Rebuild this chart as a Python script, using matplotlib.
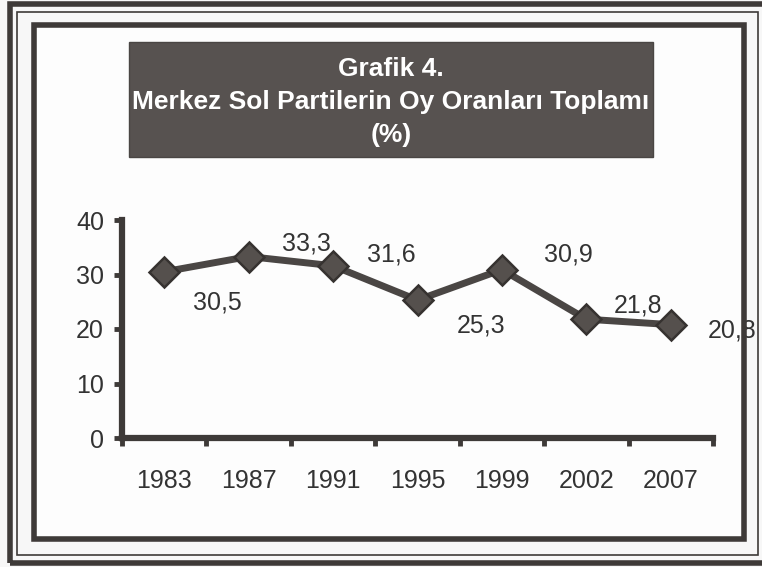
import matplotlib
matplotlib.use("Agg")
import matplotlib.pyplot as plt
from matplotlib.patches import Rectangle

years = ["1983", "1987", "1991", "1995", "1999", "2002", "2007"]
vote_share = [30.5, 33.3, 31.6, 25.3, 30.9, 21.8, 20.8]
value_labels = ["30,5", "33,3", "31,6", "25,3", "30,9", "21,8", "20,8"]
y_ticks = [0, 10, 20, 30, 40]
title_lines = ["Grafik 4.", "Merkez Sol Partilerin Oy Oranları Toplamı", "(%)"]

# label offsets from the markers, in pixels
label_offsets = [(53, -31), (58, 13), (58, 11), (64, -25), (66, 15), (52, 14), (61, -6)]

W, H = 762, 567
fig = plt.figure(figsize=(W / 100, H / 100), dpi=100, facecolor="#f7f7f7")

def box(x0, y0, x1, y1):
    # pixel box (top-left origin) -> figure fractions
    return x0 / W, 1 - y1 / H, (x1 - x0) / W, (y1 - y0) / H

dark = "#3e3a38"
text_col = "#333333"

# frames
for (x0, y0, x1, y1), lw in [((10, 4, 768, 563), 4.0),
                             ((17, 12, 758, 555), 1.2),
                             ((34, 25, 744, 539), 4.0)]:
    l, b, w, h = box(x0, y0, x1, y1)
    fig.add_artist(Rectangle((l, b), w, h, transform=fig.transFigure,
                             fill=False, edgecolor=dark, linewidth=lw))

# white inner panel
l, b, w, h = box(36, 27, 742, 537)
fig.add_artist(Rectangle((l, b), w, h, transform=fig.transFigure,
                         facecolor="#fdfdfd", edgecolor="none", zorder=-1))

# title box
l, b, w, h = box(129, 42, 653, 157)
fig.add_artist(Rectangle((l, b), w, h, transform=fig.transFigure,
                         facecolor="#575250", edgecolor="#4a4644", linewidth=1))
fig.text(391 / W, 1 - 102 / H, "\n".join(title_lines), ha="center", va="center",
         color="white", fontsize=19, fontweight="bold", linespacing=1.45,
         family=["Liberation Sans", "DejaVu Sans"])

ax = fig.add_axes(box(122, 220, 713, 438))
ax.set_facecolor("none")
x = list(range(len(years)))
ax.plot(x, vote_share, color="#4a4644", linewidth=5, marker="D", markersize=15,
        markerfacecolor="#55504d", markeredgecolor="#363230", markeredgewidth=1.8,
        zorder=3, clip_on=False)

for xi, v, lab, (dx, dy) in zip(x, vote_share, value_labels, label_offsets):
    ax.annotate(lab, (xi, v), xytext=(dx, dy), textcoords="offset pixels",
                ha="center", va="center", fontsize=18, color=text_col,
                family="Liberation Sans")

ax.set_xlim(-0.5, len(years) - 0.5)
ax.set_ylim(0, 40)
ax.set_xticks([i - 0.5 for i in range(len(years) + 1)])
ax.set_xticklabels([])
ax.set_xticks(x, minor=True)
ax.set_xticklabels(years, minor=True)
ax.set_yticks(y_ticks)
ax.set_yticklabels([str(t) for t in y_ticks])

for s in ["top", "right"]:
    ax.spines[s].set_visible(False)
for s in ["left", "bottom"]:
    ax.spines[s].set_linewidth(4.5)
    ax.spines[s].set_color(dark)

ax.tick_params(axis="both", which="major", direction="out", length=6, width=3.5,
               color=dark, labelsize=18, labelcolor=text_col)
ax.tick_params(axis="y", pad=7)
ax.tick_params(axis="x", which="minor", length=0, pad=22, labelsize=18,
               labelcolor=text_col)
for t in ax.get_xticklabels(minor=True) + ax.get_yticklabels():
    t.set_family("Liberation Sans")

fig.savefig("out.png", dpi=100, facecolor=fig.get_facecolor())
